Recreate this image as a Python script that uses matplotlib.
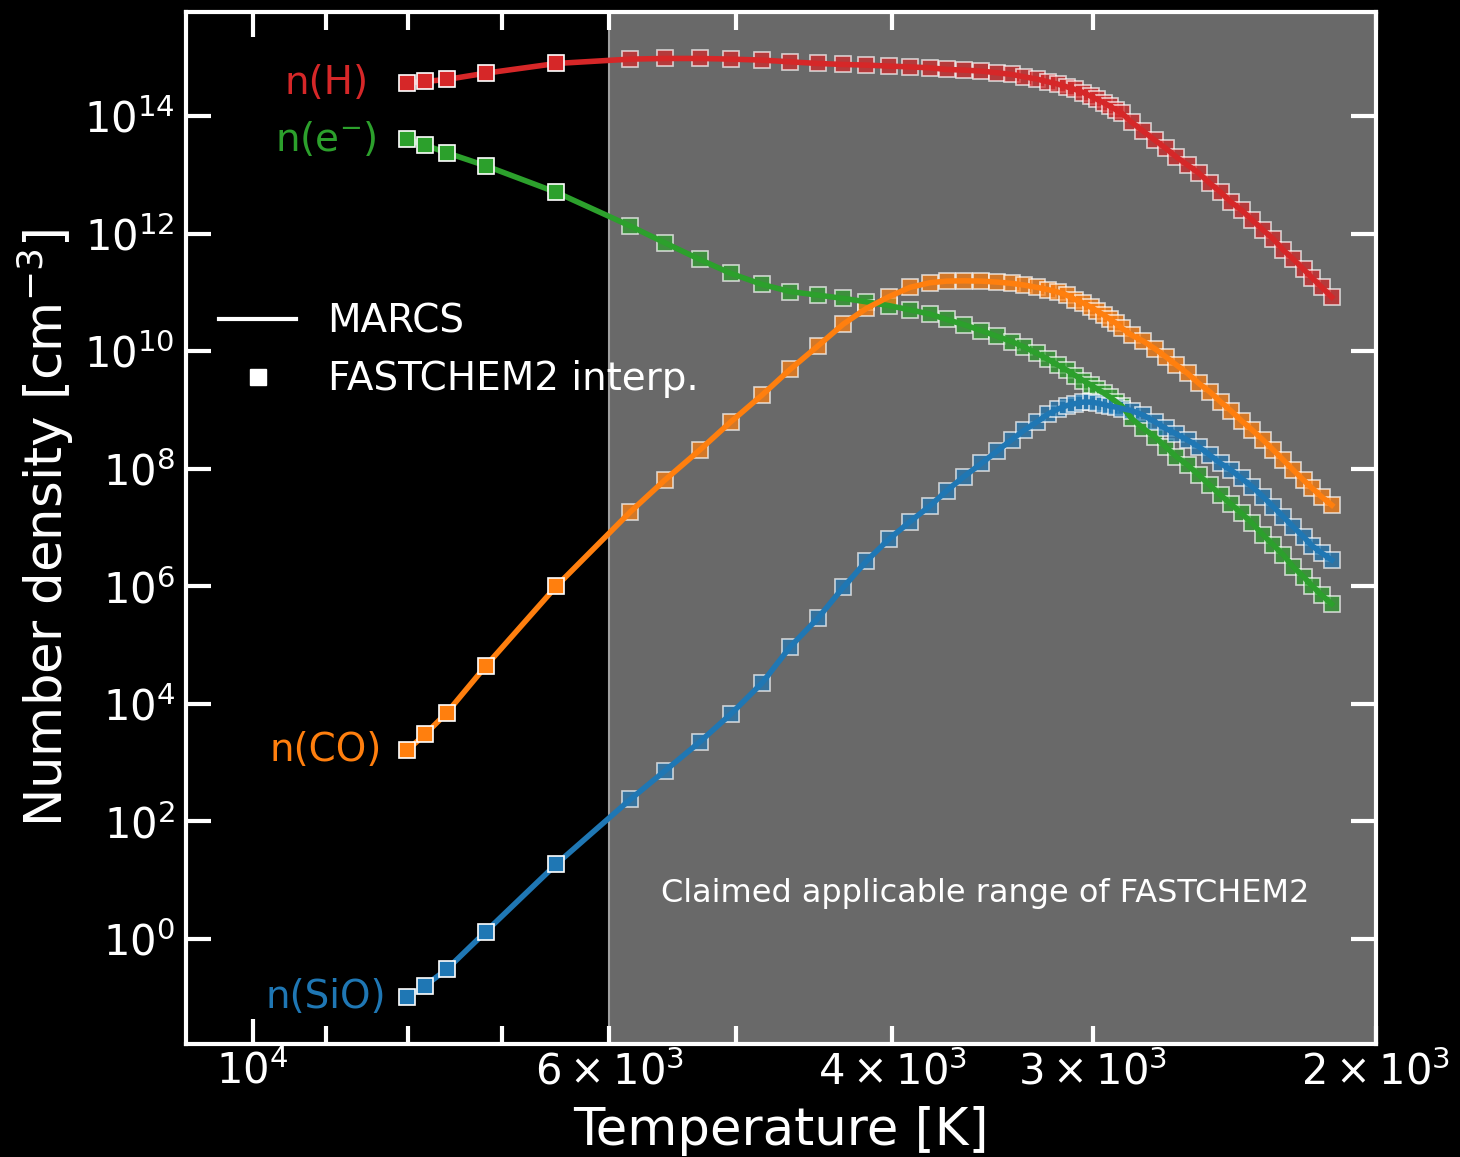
import numpy as np
import matplotlib
matplotlib.use("Agg")
import matplotlib.pyplot as plt
from matplotlib.lines import Line2D
from matplotlib.ticker import NullLocator

# temperature of each MARCS depth point [K]
T = [8010, 7810, 7570, 7160, 6470,
     5820, 5540, 5270, 5040, 4820, 4630, 4450, 4290, 4150, 4020,
     3900, 3790, 3700, 3610, 3520, 3440, 3370, 3310, 3250, 3200,
     3155, 3115, 3077, 3042, 3010, 2982, 2954, 2929, 2904, 2879,
     2839, 2792, 2746, 2704, 2662, 2620, 2578, 2538, 2499, 2462,
     2425, 2388, 2351, 2317, 2284, 2252, 2219, 2191, 2162, 2131]

# log10 number densities [cm^-3]
logn_H = [14.566, 14.589, 14.623, 14.730, 14.895,
          14.969, 14.980, 14.980, 14.969, 14.952, 14.923, 14.895, 14.878, 14.867, 14.850,
          14.837, 14.821, 14.793, 14.782, 14.765, 14.736, 14.708, 14.667, 14.628, 14.583,
          14.543, 14.497, 14.453, 14.399, 14.339, 14.283, 14.225, 14.169, 14.110, 14.050,
          13.897, 13.744, 13.591, 13.455, 13.302, 13.166, 13.030, 12.859, 12.706, 12.536,
          12.400, 12.230, 12.060, 11.907, 11.720, 11.567, 11.396, 11.243, 11.090, 10.920]
logn_e = [13.603, 13.506, 13.375, 13.154, 12.701,
          12.128, 11.844, 11.561, 11.323, 11.136, 11.014, 10.954, 10.898, 10.840, 10.776,
          10.704, 10.631, 10.541, 10.452, 10.350, 10.251, 10.163, 10.069, 9.962, 9.860,
          9.764, 9.679, 9.585, 9.500, 9.424, 9.356, 9.288, 9.220, 9.144, 9.067,
          8.857, 8.687, 8.544, 8.374, 8.204, 8.063, 7.893, 7.722, 7.552, 7.399,
          7.241, 7.071, 6.872, 6.702, 6.532, 6.333, 6.163, 6.004, 5.851, 5.698]
logn_CO = [3.215, 3.482, 3.849, 4.644, 6.004,
           7.268, 7.807, 8.318, 8.799, 9.253, 9.690, 10.087, 10.461, 10.728, 10.925,
           11.085, 11.164, 11.192, 11.197, 11.192, 11.175, 11.153, 11.124, 11.085, 11.048,
           11.005, 10.954, 10.878, 10.818, 10.750, 10.682, 10.614, 10.546, 10.478, 10.393,
           10.274, 10.172, 10.044, 9.908, 9.764, 9.622, 9.452, 9.310, 9.139, 8.986,
           8.816, 8.658, 8.488, 8.318, 8.148, 7.978, 7.807, 7.666, 7.523, 7.382]
logn_SiO = [-0.992, -0.794, -0.515, 0.124, 1.276,
            2.376, 2.858, 3.351, 3.827, 4.354, 4.967, 5.455, 5.982, 6.430, 6.799,
            7.098, 7.365, 7.625, 7.864, 8.091, 8.306, 8.496, 8.658, 8.799, 8.930,
            9.015, 9.075, 9.109, 9.134, 9.134, 9.117, 9.092, 9.066, 9.049, 9.024,
            8.990, 8.913, 8.799, 8.687, 8.590, 8.488, 8.374, 8.233, 8.091, 7.978,
            7.836, 7.694, 7.523, 7.353, 7.183, 7.013, 6.843, 6.685, 6.566, 6.447]

species = ["n(H)", "n(e$^{-}$)", "n(CO)", "n(SiO)"]
colors = ["#d62728", "#2ca02c", "#ff7f0e", "#1f77b4"]
T_fastchem_min = 6000

plt.rcParams["font.family"] = "DejaVu Sans"
plt.rcParams["font.size"] = 28

fig = plt.figure(figsize=(14.6, 11.57), dpi=100, facecolor="black")
ax = fig.add_axes([0.1274, 0.0977, 0.8151, 0.8919])
ax.set_facecolor("black")

T = np.array(T)
hot = T > T_fastchem_min

ax.axvspan(T_fastchem_min, 2000, facecolor="#696969", edgecolor="#a0a0a0", lw=1.5, zorder=0)

for logn, c, lab in zip([logn_H, logn_e, logn_CO, logn_SiO], colors, species):
    n = 10.0 ** np.array(logn)
    # FASTCHEM2 points inside its range sit under the MARCS curve, faded
    ax.plot(T[~hot], n[~hot], "s", ms=11, mfc=c, mec="white", mew=1.2, alpha=0.7, zorder=2)
    ax.plot(T, n, "-", color=c, lw=4, zorder=3)
    ax.plot(T[hot], n[hot], "s", ms=11, mfc=c, mec="white", mew=1.2, zorder=4)
    ax.text(9000, n[0], lab, color=c, ha="center", va="center", fontsize=28)

ax.text(3500, 6.0, "Claimed applicable range of FASTCHEM2", color="white",
        ha="center", va="center", fontsize=23)

ax.set_xscale("log")
ax.set_yscale("log")
ax.set_xlim(11000, 2000)
ax.set_ylim(10 ** -1.786, 10 ** 15.77)
ax.set_yticks([10.0 ** k for k in range(0, 16, 2)])
ax.yaxis.set_minor_locator(NullLocator())

for sp in ax.spines.values():
    sp.set_color("white")
    sp.set_linewidth(3)
ax.tick_params(which="both", direction="in", top=True, right=True, colors="white",
               width=3, labelsize=30)
ax.tick_params(axis="y", which="major", length=18, pad=8)
ax.tick_params(axis="x", which="major", length=18, pad=5)
ax.tick_params(axis="x", which="minor", length=13, pad=5)

ax.set_xlabel("Temperature [K]", color="white", fontsize=37, labelpad=9)
ax.set_ylabel("Number density [cm$^{-3}$]", color="white", fontsize=37, labelpad=6)

handles = [Line2D([], [], color="white", lw=3),
           Line2D([], [], marker="s", ls="", color="white", ms=11)]
ax.legend(handles, ["MARCS", "FASTCHEM2 interp."], loc="upper left",
          bbox_to_anchor=(-0.002, 0.752), frameon=False, fontsize=28, labelcolor="white")

fig.savefig("out.png", dpi=100, facecolor="black")
